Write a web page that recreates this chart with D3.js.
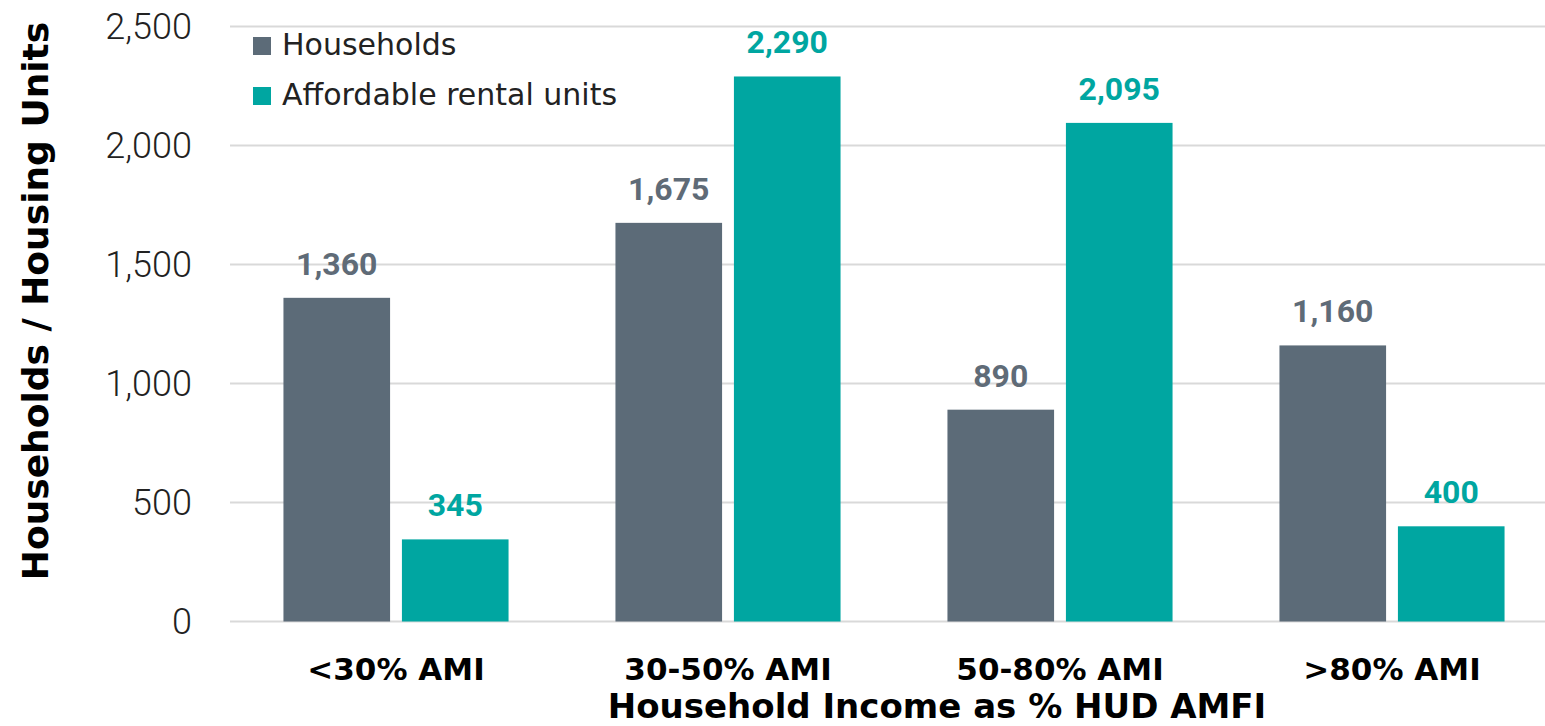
<!DOCTYPE html>
<html>
<head>
<meta charset="utf-8">
<script src="https://cdn.jsdelivr.net/npm/d3@7"></script>
<style>
  html, body { margin: 0; padding: 0; background: #fff; }
  svg { display: block; font-family: Roboto, "Open Sans", sans-serif; }
</style>
</head>
<body>
<script>
const categories = ["<30% AMI", "30-50% AMI", "50-80% AMI", ">80% AMI"];
const seriesNames = ["Households", "Affordable rental units"];
const households = [1360, 1675, 890, 1160];
const rentalUnits = [345, 2290, 2095, 400];
const yTicks = [0, 500, 1000, 1500, 2000, 2500];

const colors = { "Households": "#5c6b78", "Affordable rental units": "#00a6a1" };
const labelColors = { "Households": "#5f6b77", "Affordable rental units": "#00a6a1" };

const width = 1545, height = 726;
const plotLeft = 230, plotRight = 1558;
const plotTop = 26.5, plotBottom = 621.5;
const wideFont = "'DejaVu Sans', Verdana, sans-serif";

const svg = d3.select("body").append("svg")
  .attr("width", width)
  .attr("height", height);

const x0 = d3.scaleBand()
  .domain(categories)
  .range([plotLeft, plotRight])
  .paddingInner(0.322)
  .paddingOuter(0.161);

const x1 = d3.scaleBand()
  .domain(seriesNames)
  .range([0, x0.bandwidth()])
  .paddingInner(0.1);

const y = d3.scaleLinear()
  .domain([0, 2500])
  .range([plotBottom, plotTop]);

// gridlines
svg.append("g")
  .selectAll("line")
  .data(yTicks)
  .join("line")
  .attr("x1", plotLeft)
  .attr("x2", width)
  .attr("y1", d => y(d))
  .attr("y2", d => y(d))
  .attr("stroke", "#d9d9d9")
  .attr("stroke-width", 2);

// y tick labels
svg.append("g")
  .selectAll("text")
  .data(yTicks)
  .join("text")
  .attr("x", 192)
  .attr("y", d => y(d))
  .attr("dy", "0.36em")
  .attr("text-anchor", "end")
  .attr("font-size", 36)
  .attr("font-weight", 300)
  .attr("fill", "#222")
  .text(d => d3.format(",")(d));

// bars
const rows = categories.map((c, i) => ({
  category: c,
  values: [
    { key: "Households", value: households[i] },
    { key: "Affordable rental units", value: rentalUnits[i] }
  ]
}));

const groups = svg.append("g")
  .selectAll("g")
  .data(rows)
  .join("g")
  .attr("transform", d => `translate(${x0(d.category)},0)`);

groups.selectAll("rect")
  .data(d => d.values)
  .join("rect")
  .attr("x", d => x1(d.key))
  .attr("y", d => y(d.value))
  .attr("width", x1.bandwidth())
  .attr("height", d => y(0) - y(d.value))
  .attr("fill", d => colors[d.key]);

groups.selectAll("text")
  .data(d => d.values)
  .join("text")
  .attr("x", d => x1(d.key) + x1.bandwidth() / 2)
  .attr("y", d => y(d.value) - 23)
  .attr("text-anchor", "middle")
  .attr("font-size", 32)
  .attr("font-weight", 700)
  .attr("fill", d => labelColors[d.key])
  .text(d => d3.format(",")(d.value));

// x tick labels
svg.append("g")
  .selectAll("text")
  .data(categories)
  .join("text")
  .attr("x", d => x0(d) + x0.bandwidth() / 2)
  .attr("y", 680)
  .attr("text-anchor", "middle")
  .attr("font-family", wideFont)
  .attr("font-size", 31)
  .attr("font-weight", 700)
  .attr("fill", "#000")
  .text(d => d);

// axis titles
svg.append("text")
  .attr("x", 937)
  .attr("y", 718)
  .attr("text-anchor", "middle")
  .attr("font-family", wideFont)
  .attr("font-size", 34)
  .attr("font-weight", 700)
  .attr("fill", "#000")
  .text("Household Income as % HUD AMFI");

svg.append("text")
  .attr("transform", `translate(48,${(30 + 572) / 2}) rotate(-90)`)
  .attr("text-anchor", "middle")
  .attr("font-family", wideFont)
  .attr("font-size", 36)
  .attr("font-weight", 700)
  .attr("fill", "#000")
  .text("Households / Housing Units");

// legend
const legend = svg.append("g")
  .selectAll("g")
  .data(seriesNames)
  .join("g")
  .attr("transform", (d, i) => `translate(253,${37 + i * 50})`);

legend.append("rect")
  .attr("width", 18)
  .attr("height", 18)
  .attr("fill", d => colors[d]);

legend.append("text")
  .attr("x", 29)
  .attr("y", 18)
  .attr("font-family", wideFont)
  .attr("font-size", 30)
  .attr("fill", "#222")
  .text(d => d);
</script>
</body>
</html>
